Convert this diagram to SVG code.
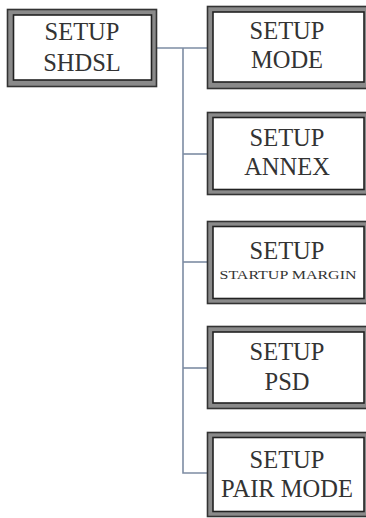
<svg xmlns="http://www.w3.org/2000/svg" width="366" height="518" viewBox="0 0 366 518">
<style>
.outer{fill:#8a8a8a;stroke:#333;stroke-width:1.6}
.inner{fill:#fff;stroke:#222;stroke-width:1.6}
.t{font-family:"Liberation Serif","Times New Roman",serif;font-size:24.5px;fill:#333;text-anchor:middle}
.s{font-family:"Liberation Serif","Times New Roman",serif;font-size:13px;fill:#333;text-anchor:middle}
.c{fill:none;stroke:#7d8ca3;stroke-width:1.6}
</style>
<rect width="366" height="518" fill="#fff"/>
<g id="connectors">
<path class="c" d="M157,48 H208"/>
<path class="c" d="M183,48 V473 H208"/>
<path class="c" d="M183,154 H208"/>
<path class="c" d="M183,262 H208"/>
<path class="c" d="M183,368 H208"/>
</g>
<g id="setup-shdsl">
<rect class="outer" x="7.5" y="9.5" width="149" height="77"/>
<rect class="inner" x="13.5" y="15" width="138" height="65"/>
<text class="t" x="82" y="40">SETUP</text>
<text class="t" x="82" y="71">SHDSL</text>
</g>
<g id="setup-mode">
<rect class="outer" x="207.5" y="6.5" width="165" height="82"/>
<rect class="inner" x="213" y="12" width="151" height="70"/>
<text class="t" x="287" y="39">SETUP</text>
<text class="t" x="287" y="68">MODE</text>
</g>
<g id="setup-annex">
<rect class="outer" x="207.5" y="112.5" width="165" height="82"/>
<rect class="inner" x="213" y="117.5" width="151" height="72"/>
<text class="t" x="287" y="146">SETUP</text>
<text class="t" x="287" y="175">ANNEX</text>
</g>
<g id="setup-startup-margin">
<rect class="outer" x="207.5" y="221.5" width="165" height="82"/>
<rect class="inner" x="213" y="226.5" width="151" height="72"/>
<text class="t" x="287" y="259">SETUP</text>
<text class="s" x="288" y="279" textLength="137" lengthAdjust="spacingAndGlyphs">STARTUP MARGIN</text>
</g>
<g id="setup-psd">
<rect class="outer" x="207.5" y="326.5" width="165" height="82"/>
<rect class="inner" x="213" y="332" width="151" height="71"/>
<text class="t" x="287" y="360">SETUP</text>
<text class="t" x="287" y="390">PSD</text>
</g>
<g id="setup-pair-mode">
<rect class="outer" x="207.5" y="432.5" width="165" height="84"/>
<rect class="inner" x="213" y="437.5" width="151" height="74"/>
<text class="t" x="287" y="468">SETUP</text>
<text class="t" x="287" y="497">PAIR MODE</text>
</g>
</svg>
